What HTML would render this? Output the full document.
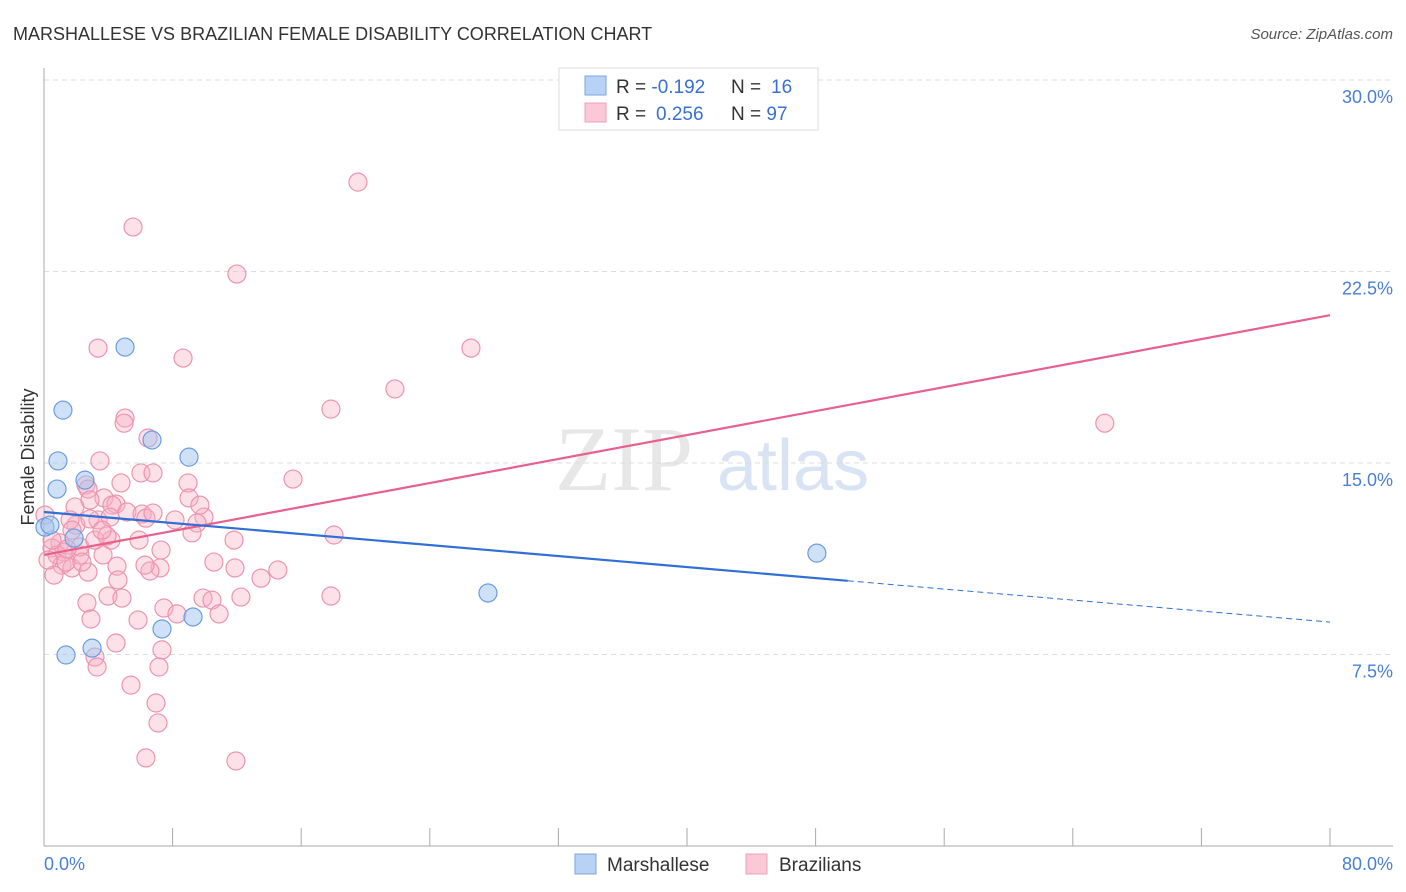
<!DOCTYPE html>
<html><head><meta charset="utf-8"><style>
body{margin:0;background:#fff;font-family:"Liberation Sans",sans-serif;}
svg{display:block}
</style></head><body>
<svg id="chart" width="1406" height="892" xmlns="http://www.w3.org/2000/svg" font-family="Liberation Sans, sans-serif">
<text x="13" y="40" font-size="18" fill="#333">MARSHALLESE VS BRAZILIAN FEMALE DISABILITY CORRELATION CHART</text>
<text x="1393" y="39" font-size="15" fill="#555" font-style="italic" text-anchor="end">Source: ZipAtlas.com</text>
<g>
<text x="555" y="490" font-size="92" fill="#ddd" font-family="Liberation Serif, serif" opacity="0.7">ZIP</text>
<text x="717" y="490" font-size="72" fill="#c8d8f0" opacity="0.7">atlas</text>
</g>
<g id="grid"></g>
<g id="axes"></g>
<g id="points"></g>
<g id="trends"></g>
<text transform="translate(34,457) rotate(-90)" font-size="18" fill="#333" text-anchor="middle">Female Disability</text>
<g>
<rect x="559" y="68" width="259" height="62" fill="#fff" stroke="#ddd"/>
<rect x="585" y="76" width="21" height="19" fill="#b8d2f5" stroke="#7aa6e0"/>
<rect x="585" y="103" width="21" height="19" fill="#fac8d6" stroke="#eea0b8"/>
<text x="616" y="93" font-size="19" fill="#333">R = <tspan fill="#3a70d0">-0.192</tspan><tspan x="731">N = </tspan><tspan fill="#3a70d0" x="771">16</tspan></text>
<text x="616" y="120" font-size="19" fill="#333">R = <tspan fill="#3a70d0" x="656">0.256</tspan><tspan x="731">N = </tspan><tspan fill="#3a70d0">97</tspan></text>
</g>
<g>
<rect x="575" y="854" width="21" height="20" fill="#b8d2f5" stroke="#7aa6e0"/>
<text x="607" y="871" font-size="19" fill="#333">Marshallese</text>
<rect x="746" y="854" width="21" height="20" fill="#fac8d6" stroke="#eea0b8"/>
<text x="779" y="871" font-size="19" fill="#333">Brazilians</text>
</g>
</svg>
<script>
const yTicks=[7.5,15,22.5,30];
const yTickLabels=["7.5%","15.0%","22.5%","30.0%"];
const xTickVals=[0,8,16,24,32,40,48,56,64,72,80];
const xEndLabels=["0.0%","80.0%"];
const blueX=[5.04,1.18,0.87,0.81,2.55,6.72,9.02,0.06,0.37,1.87,48.08,27.62,7.34,9.27,1.37,2.99];
const blueY=[19.54,17.07,15.08,13.98,14.33,15.90,15.23,12.49,12.57,12.06,11.47,9.91,8.50,8.97,7.48,7.75];
const pinkX=[19.53,5.54,12.00,3.36,8.65,26.56,21.83,17.85,65.99,5.04,4.98,6.47,3.48,2.61,2.74,4.79,6.03,6.78,15.49,8.96,9.02,3.73,4.48,4.23,1.93,1.99,3.36,2.86,4.11,5.16,6.10,6.34,9.95,9.52,4.17,5.91,9.21,11.82,18.04,1.62,1.00,1.24,0.50,0.81,1.12,0.62,1.74,2.24,3.67,1.37,7.28,10.57,11.88,14.55,13.50,4.54,2.74,7.22,6.59,4.60,3.98,2.67,7.46,9.89,10.45,12.25,17.85,8.27,10.89,2.92,5.85,4.48,3.17,7.34,3.30,7.15,5.41,6.97,7.09,6.34,11.94,2.24,1.43,2.36,0.25,0.50,0.06,3.17,1.74,6.28,9.70,3.92,4.85,6.78,3.61,2.86,8.15];
const pinkY=[26.00,24.24,22.40,19.50,19.11,19.50,17.90,17.11,16.56,16.76,16.56,15.98,15.08,14.14,13.98,14.22,14.61,14.61,14.37,14.22,13.63,13.63,13.39,13.35,13.28,12.57,12.77,12.81,12.88,13.08,13.00,12.84,12.88,12.65,11.98,11.98,12.26,11.98,12.18,12.77,11.87,11.51,11.67,11.40,11.00,10.61,10.89,11.40,11.40,11.12,11.59,11.12,10.89,10.81,10.49,10.96,10.73,10.89,10.77,10.42,9.79,9.52,9.32,9.71,9.63,9.75,9.79,9.09,9.09,8.89,8.85,7.95,7.40,7.68,7.01,7.01,6.30,5.60,4.82,3.45,3.33,11.71,11.63,11.12,11.20,11.98,12.96,11.98,12.37,11.00,13.35,12.14,9.71,13.04,12.37,13.55,12.77];
const pinkTrend=[11.40,20.79];
const blueTrend=[13.08,8.77];
const blueSolidEnd=50;

const NS="http://www.w3.org/2000/svg";
const X0=44,X1=1330,YB=846,PX=191.5/7.5;
const sx=v=>X0+(X1-X0)*v/80;
const sy=v=>YB-v*PX;
function mk(tag,attrs,parent){const e=document.createElementNS(NS,tag);for(const k in attrs)e.setAttribute(k,attrs[k]);parent.appendChild(e);return e;}
const grid=document.getElementById('grid'),axes=document.getElementById('axes'),pts=document.getElementById('points'),tr=document.getElementById('trends');
yTicks.forEach((t,i)=>{
 const l=mk('line',{x1:X0,x2:1393,y1:sy(t),y2:sy(t),stroke:'#ddd','stroke-dasharray':'5,4'},grid);
 
 
 const tx=mk('text',{x:1393,y:sy(t)+23,'font-size':18,fill:'#4a7fd4','text-anchor':'end'},axes);
 tx.textContent=yTickLabels[i];
 
 
});
const ya=mk('line',{x1:X0,x2:X0,y1:68,y2:YB,stroke:'#aaa'},axes);


const xa=mk('line',{x1:X0,x2:1393,y1:YB,y2:YB,stroke:'#aaa'},axes);


xTickVals.forEach(v=>{
 const t=mk('line',{x1:sx(v),x2:sx(v),y1:YB,y2:828,stroke:'#aaa'},axes);
 
 
});
const xl0=mk('text',{x:44,y:870,'font-size':18,fill:'#4a7fd4'},axes);xl0.textContent=xEndLabels[0];


const xl1=mk('text',{x:1393,y:870,'font-size':18,fill:'#4a7fd4','text-anchor':'end'},axes);xl1.textContent=xEndLabels[1];


pinkX.forEach((x,i)=>{
 const c=mk('circle',{cx:sx(x),cy:sy(pinkY[i]),r:9,fill:'rgba(248,175,198,0.38)',stroke:'#ec94b0','stroke-width':1.2},pts);
 
 
});
blueX.forEach((x,i)=>{
 const c=mk('circle',{cx:sx(x),cy:sy(blueY[i]),r:9,fill:'rgba(160,196,240,0.5)',stroke:'#6a9de0','stroke-width':1.2},pts);
 
 
});
const bAt=v=>blueTrend[0]+(blueTrend[1]-blueTrend[0])*v/80;
const pl=mk('line',{x1:sx(0),y1:sy(pinkTrend[0]),x2:sx(80),y2:sy(pinkTrend[1]),stroke:'#e8608c','stroke-width':2.2},tr);


const bl=mk('line',{x1:sx(0),y1:sy(bAt(0)),x2:sx(blueSolidEnd),y2:sy(bAt(blueSolidEnd)),stroke:'#2f6fd6','stroke-width':2.2},tr);


const bd=mk('line',{x1:sx(blueSolidEnd),y1:sy(bAt(blueSolidEnd)),x2:sx(80),y2:sy(bAt(80)),stroke:'#2f6fd6','stroke-width':1,'stroke-dasharray':'6,4'},tr);


</script>
</body></html>
